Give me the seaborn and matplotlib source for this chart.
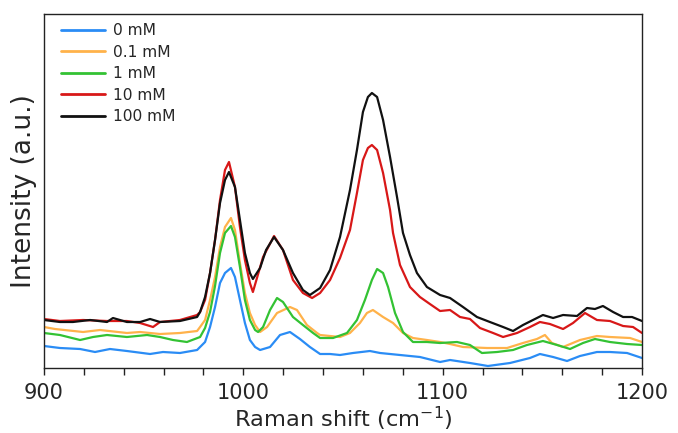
import numpy as np
import pandas as pd
import matplotlib
matplotlib.use("Agg")
import matplotlib.pyplot as plt
import seaborn as sns
from matplotlib.ticker import MultipleLocator

labels = ["0 mM", "0.1 mM", "1 mM", "10 mM", "100 mM"]
colors = ["#2a8cf5", "#ffb24a", "#33c233", "#d81818", "#111111"]

x_0 = [900.0, 908.0, 918.1, 925.6, 933.1, 941.6, 953.2, 959.7, 968.2, 976.8, 978.3, 980.8, 983.3, 985.8,
       988.3, 990.8, 993.8, 995.8, 998.3, 1000.8, 1003.3, 1005.9, 1008.4, 1013.4, 1018.4, 1023.4, 1028.4,
       1033.4, 1038.5, 1043.5, 1048.5, 1055.0, 1063.5, 1068.6, 1078.6, 1088.6, 1098.7, 1103.7, 1113.7,
       1122.7, 1133.8, 1143.8, 1148.8, 1155.4, 1162.4, 1168.9, 1177.4, 1183.9, 1192.5, 1200.0]
y_0 = [22, 20, 19, 16, 19, 17, 14, 16, 15, 18, 21, 26, 41, 61,
       85, 95, 100, 91, 68, 45, 28, 21, 18, 21, 33, 36, 29,
       21, 14, 14, 13, 15, 17, 15, 13, 11, 6, 8, 5,
       2, 5, 10, 14, 11, 7, 12, 16, 16, 15, 10]

x_01 = [900.0, 905.5, 919.6, 928.1, 941.6, 948.2, 958.2, 968.2, 976.8, 978.3, 980.8, 983.3, 985.8, 988.3,
        990.8, 993.8, 995.8, 998.3, 1000.8, 1003.3, 1005.9, 1008.4, 1011.9, 1016.9, 1023.4, 1026.9, 1031.9,
        1037.0, 1038.5, 1048.5, 1053.5, 1058.5, 1062.0, 1065.0, 1070.1, 1075.1, 1080.1, 1085.1, 1092.1,
        1098.7, 1103.7, 1110.2, 1122.2, 1132.3, 1140.3, 1147.3, 1151.3, 1154.8, 1160.4, 1168.9, 1177.4,
        1183.9, 1194.0, 1200.0]
y_01 = [41, 39, 36, 38, 35, 36, 34, 35, 37, 41, 48, 68, 91, 121,
        141, 150, 138, 105, 75, 55, 43, 36, 41, 55, 61, 58, 43,
        35, 33, 31, 35, 45, 55, 58, 51, 45, 35, 30, 28,
        26, 24, 21, 20, 20, 25, 29, 33, 25, 21, 28, 32,
        31, 30, 26]

x_1 = [900.0, 908.0, 918.1, 924.6, 931.6, 941.6, 951.7, 958.2, 964.7, 971.7, 978.3, 980.8, 983.3, 985.8,
       988.3, 990.8, 993.8, 995.8, 998.3, 1000.8, 1003.3, 1005.9, 1007.4, 1009.9, 1013.4, 1016.9, 1019.9,
       1024.9, 1029.9, 1035.0, 1038.5, 1045.0, 1052.0, 1057.0, 1061.0, 1064.5, 1067.1, 1070.1, 1072.6,
       1076.1, 1080.1, 1085.1, 1092.1, 1098.7, 1107.2, 1113.7, 1119.7, 1127.3, 1135.3, 1142.3, 1150.3,
       1157.4, 1163.9, 1170.4, 1176.4, 1183.9, 1192.5, 1200.0]
y_1 = [35, 33, 28, 31, 33, 31, 33, 31, 28, 26, 31, 40, 56, 82,
       115, 135, 142, 131, 101, 68, 48, 38, 36, 41, 58, 70, 66,
       51, 43, 35, 30, 30, 35, 48, 68, 88, 99, 95, 81,
       55, 36, 26, 26, 25, 26, 23, 15, 16, 18, 23, 27,
       23, 19, 25, 29, 26, 24, 23]

x_10 = [900.0, 908.0, 919.6, 931.6, 941.6, 948.2, 954.7, 958.2, 968.2, 976.8, 978.3, 980.8, 983.3, 985.8,
        988.3, 990.8, 992.8, 995.8, 998.3, 1000.8, 1003.3, 1004.8, 1009.9, 1015.4, 1019.9, 1024.9, 1029.9,
        1034.5, 1038.5, 1043.5, 1048.5, 1053.5, 1057.0, 1060.0, 1062.5, 1064.5, 1067.1, 1070.1, 1073.6,
        1075.1, 1078.6, 1083.6, 1088.6, 1093.6, 1098.7, 1103.7, 1108.7, 1113.7, 1118.7, 1125.3, 1130.3,
        1137.3, 1143.8, 1148.8, 1153.8, 1160.4, 1165.4, 1171.4, 1177.4, 1183.9, 1190.5, 1195.5, 1200.0]
y_10 = [49, 47, 48, 47, 47, 45, 41, 46, 48, 53, 56, 68, 95, 128,
        168, 198, 206, 181, 141, 108, 85, 76, 111, 132, 118, 88, 75,
        70, 75, 88, 110, 138, 175, 208, 220, 223, 218, 195, 158,
        135, 103, 81, 71, 64, 57, 58, 51, 49, 40, 35, 31,
        35, 41, 46, 44, 39, 45, 55, 48, 47, 42, 41, 35]

x_100 = [900.0, 908.0, 914.5, 923.1, 931.6, 934.6, 941.6, 948.2, 953.2, 958.2, 968.2, 976.8, 978.3, 980.8,
         983.3, 985.8, 988.3, 990.8, 992.8, 995.8, 998.3, 1000.8, 1003.3, 1004.8, 1008.4, 1011.4, 1015.4,
         1019.9, 1024.9, 1029.9, 1033.4, 1038.5, 1043.5, 1048.5, 1053.5, 1057.0, 1060.0, 1062.5, 1064.5,
         1067.1, 1070.1, 1073.6, 1077.1, 1080.1, 1083.6, 1087.1, 1092.1, 1098.7, 1103.7, 1110.2, 1117.2,
         1123.7, 1130.3, 1135.3, 1140.3, 1145.3, 1150.3, 1155.4, 1160.4, 1167.4, 1172.4, 1176.4, 1180.4,
         1185.5, 1190.5, 1195.0, 1200.0]
y_100 = [48, 46, 46, 48, 46, 50, 46, 46, 49, 46, 47, 51, 56, 71,
         95, 128, 165, 188, 196, 181, 148, 115, 95, 89, 100, 118, 131,
         118, 95, 78, 73, 80, 98, 131, 178, 218, 256, 271, 275,
         271, 248, 211, 171, 135, 113, 95, 81, 73, 70, 61, 51,
         46, 41, 37, 43, 48, 53, 50, 53, 52, 60, 59, 62,
         56, 51, 51, 47]

series_x = [x_0, x_01, x_1, x_10, x_100]
series_y = [y_0, y_01, y_1, y_10, y_100]

frames = []
for lab, xs, ys in zip(labels, series_x, series_y):
    frames.append(pd.DataFrame({"shift": xs, "intensity": ys, "conc": lab}))
df = pd.concat(frames, ignore_index=True)

sns.set_style("white")
plt.rcParams["font.family"] = ["DejaVu Sans"]

fig = plt.figure(figsize=(6.78, 4.33), dpi=100)
ax = fig.add_axes([44 / 678, 65 / 433, 598 / 678, 354 / 433])

sns.lineplot(data=df, x="shift", y="intensity", hue="conc", hue_order=labels,
             palette=dict(zip(labels, colors)), estimator=None, sort=False,
             linewidth=1.6, ax=ax)

ax.set_xlim(900, 1200)
ax.set_ylim(0, 354)
ax.xaxis.set_major_locator(MultipleLocator(100))
ax.xaxis.set_minor_locator(MultipleLocator(20))
ax.set_yticks([])
ax.tick_params(axis="x", which="both", direction="out", length=5, width=1,
               color="#222222", labelsize=15, bottom=True, top=False, pad=6)
for s in ax.spines.values():
    s.set_color("#222222")
    s.set_linewidth(1.0)

ax.set_xlabel("Raman shift (cm$^{-1}$)", fontsize=16.2, labelpad=1)
ax.set_ylabel("Intensity (a.u.)", fontsize=19, labelpad=5)

leg = ax.legend(loc="upper left", bbox_to_anchor=(0.01, 1.005), frameon=False,
                fontsize=11.2, handlelength=2.85, handletextpad=0.5, labelspacing=0.42,
                borderaxespad=0.3)
for line in leg.get_lines():
    line.set_linewidth(2.0)

fig.savefig("out.png", dpi=100)
